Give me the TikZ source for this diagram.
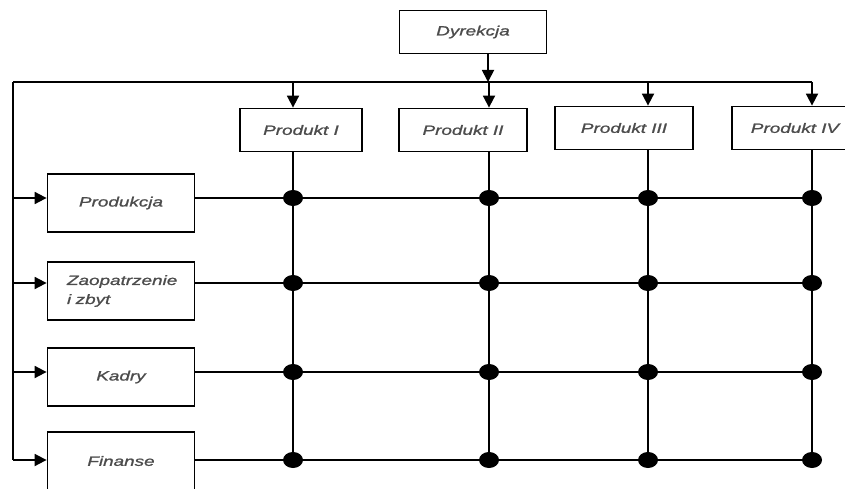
\documentclass[tikz,border=0pt]{standalone}
\usepackage{fontspec}
\newfontfamily\lblfont[FakeStretch=1.4, FakeBold=1.2]{Liberation Sans}
\usetikzlibrary{arrows.meta, shapes.geometric}

\tikzset{
  box/.style={draw, line width=1.8pt, inner sep=0pt, text=black!70,
    font=\lblfont\itshape\fontsize{13.5}{19}\selectfont},
  link/.style={line width=1.8pt},
  feed/.style={link, -{Triangle[length=12pt,width=12pt]}},
  knot/.style={ellipse, fill, inner sep=0pt, minimum width=20pt, minimum height=16pt}
}

\begin{document}
\begin{tikzpicture}[x=1pt, y=-1pt]
            \useasboundingbox (0,0) rectangle (845,489);
            % top
            \node[box, minimum width=147pt, minimum height=43pt] (dyr) at (473,32) {Dyrekcja};
            \coordinate (top) at (488,82);
            \coordinate (bl) at (13,82);
            \coordinate (br) at (812,82);
            \draw[feed] (top |- dyr.south) -- (top);
            \draw[link] (bl) -- (br);
            % products
            \node[box, minimum width=122pt, minimum height=43pt] (p1) at (301,130) {Produkt I};
            \node[box, minimum width=128pt, minimum height=43pt] (p2) at (463,130) {Produkt II};
            \node[box, minimum width=138pt, minimum height=43pt] (p3) at (624,128) {Produkt III};
            \node[box, minimum width=126pt, minimum height=43pt] (p4) at (795,128) {Produkt IV};
            \coordinate (c1) at (293,82);
            \coordinate (c2) at (489,82);
            \coordinate (c3) at (648,82);
            \coordinate (c4) at (812,82);
            % departments
            \node[box, minimum width=147pt, minimum height=58pt] (r1) at (121,203) {Produkcja};
            \node[box, minimum width=147pt, minimum height=58pt, align=left, text width=108pt] (r2) at (121,291) {Zaopatrzenie\\i zbyt};
            \node[box, minimum width=147pt, minimum height=58pt] (r3) at (121,377) {Kadry};
            \node[box, minimum width=147pt, minimum height=58pt] (r4) at (121,461) {Finanse};
            \coordinate (w1) at (13,198);
            \coordinate (w2) at (13,283);
            \coordinate (w3) at (13,372);
            \coordinate (w4) at (13,460);
            \draw[link] (bl) -- (w4);
            \foreach \i in {1,...,4} {
              \draw[feed] (c\i) -- (c\i |- p\i.north);
              \draw[feed] (w\i) -- (w\i -| r\i.west);
              \draw[link] (w\i -| r\i.east) -- (w\i -| c4);
              \draw[link] (c\i |- p\i.south) -- (c\i |- w4);
            }
            % knots
            \foreach \i in {1,...,4}
              \foreach \j in {1,...,4}
                \node[knot] (k\i\j) at (c\j |- w\i) {};
        \end{tikzpicture}
\end{document}
